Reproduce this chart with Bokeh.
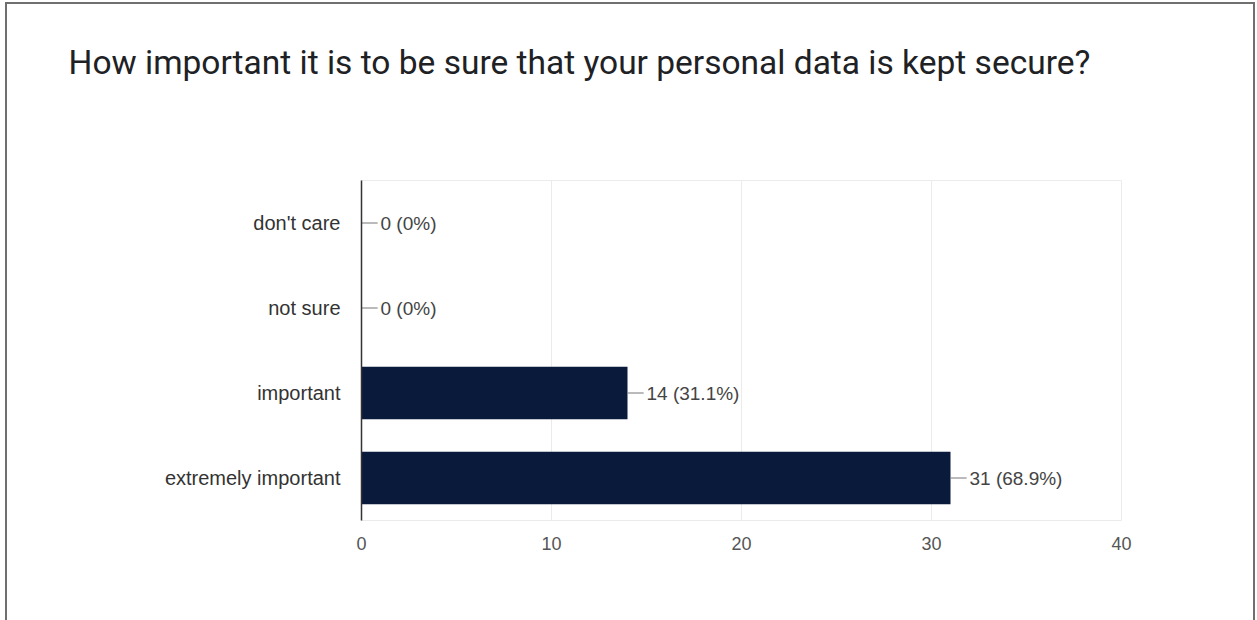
from bokeh.plotting import figure
from bokeh.models import ColumnDataSource, FactorRange, Range1d, FixedTicker, Title
from bokeh.embed import file_html
from bokeh.resources import INLINE

title = "How important it is to be sure that your personal data is kept secure?"
categories = ["don't care", "not sure", "important", "extremely important"]
counts = [0, 0, 14, 31]
percents = ["0%", "0%", "31.1%", "68.9%"]
x_ticks = [0, 10, 20, 30, 40]

labels = [f"{c} ({p})" for c, p in zip(counts, percents)]
LEAD = 0.85  # leader line length in data units (style)

src = ColumnDataSource(dict(cat=categories, count=counts, label=labels,
                            lead_end=[c + LEAD for c in counts]))

p = figure(width=1246, height=616, output_backend="svg", toolbar_location=None,
           title=None,
           y_range=FactorRange(factors=list(reversed(categories))),
           x_range=Range1d(0, 40),
           frame_width=760, frame_height=340,
           min_border_left=354, min_border_right=132, min_border_top=176, min_border_bottom=100,
           margin=(2, 0, 0, 5),
           styles={"border-left": "2px solid #6f6f6f", "border-top": "2px solid #6f6f6f",
                   "border-right": "2px solid #6f6f6f", "border-bottom": "2px solid #6f6f6f"})
p.background_fill_color = "white"
p.border_fill_color = "white"
p.outline_line_color = "#ebebeb"

# spacer between frame and title (added first = nearest the frame)
p.add_layout(Title(text=" ", text_font_size="2px", standoff=90), "above")
p.add_layout(Title(text=title, text_font="Roboto", text_font_size="33.5px",
                   text_font_style="normal", text_color="#202124",
                   align="left", offset=-293, standoff=10), "above")

p.hbar(y="cat", left=0, right="count", height=0.62, source=src,
       fill_color="#0a1a3a", line_color=None)
p.segment(x0="count", y0="cat", x1="lead_end", y1="cat", source=src,
          line_color="#777777", line_width=1)
p.text(x="count", y="cat", text="label", source=src, x_offset=19,
       text_baseline="middle", text_align="left", text_font_size="19px",
       text_font={"value": "Liberation Sans"}, text_color="#444444")

p.xgrid.grid_line_color = "#ebebeb"
p.ygrid.grid_line_color = None
p.xaxis.ticker = FixedTicker(ticks=x_ticks)
p.xaxis.axis_line_color = None
p.xaxis.major_tick_line_color = None
p.xaxis.minor_tick_line_color = None
p.xaxis.major_label_standoff = 10
p.xaxis.major_label_text_font = "Liberation Sans"
p.xaxis.major_label_text_font_size = "18px"
p.xaxis.major_label_text_color = "#555555"

p.yaxis.axis_line_color = "#333333"
p.yaxis.axis_line_width = 1.5
p.yaxis.major_tick_line_color = None
p.yaxis.minor_tick_line_color = None
p.yaxis.major_label_standoff = 15
p.yaxis.major_label_text_font = "Liberation Sans"
p.yaxis.major_label_text_font_size = "20px"
p.yaxis.major_label_text_color = "#333333"

open("out.html", "w").write(file_html(p, INLINE))
